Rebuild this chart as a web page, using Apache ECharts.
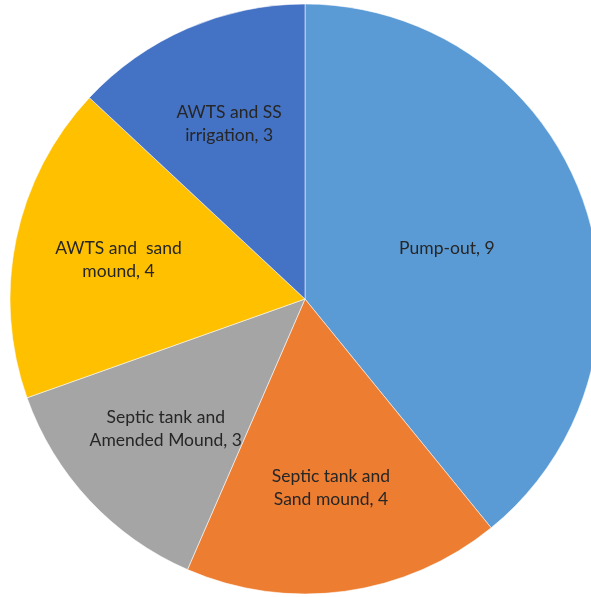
<!DOCTYPE html>
<html><head><meta charset="utf-8">
<script src="https://cdn.jsdelivr.net/npm/echarts@6/dist/echarts.min.js"></script>
<style>html,body{margin:0;padding:0;background:#fff}#c{width:591px;height:597px}</style>
</head><body><div id="c"></div>
<script>
const categories = ["Pump-out", "Septic tank and\nSand mound", "Septic tank and\nAmended Mound", "AWTS and  sand\nmound", "AWTS and SS\nirrigation"];
const values = [9, 4, 3, 4, 3];
const colors = ["#5B9BD5", "#ED7D31", "#A5A5A5", "#FFC000", "#4472C4"];

const font = {fontFamily: "Lato, 'Open Sans', sans-serif", fontSize: 17.5, color: "#262626", lineHeight: 23};
const chart = echarts.init(document.getElementById('c'));
chart.setOption({
  animation: false,
  series: [{
    type: 'pie', center: [305, 299], radius: [0, 295], startAngle: 90, clockwise: true,
    silent: true,
    itemStyle: {borderColor: 'rgba(255,255,255,0.55)', borderWidth: 1},
    label: {show: false},
    labelLine: {show: false},
    data: categories.map((n, i) => ({
      name: n, value: values[i], itemStyle: {color: colors[i]},
      label: i === 0 ? Object.assign({show: true, position: 'inside', formatter: '{b}, {c}'}, font) : {show: false}
    }))
  }, {
    type: 'pie', center: [305, 299], radius: [80, 295], startAngle: 90, clockwise: true,
    silent: true,
    itemStyle: {color: 'rgba(0,0,0,0)', borderWidth: 0},
    labelLine: {show: false},
    label: Object.assign({show: true, position: 'inside', formatter: '{b}, {c}'}, font),
    data: categories.map((n, i) => ({
      name: n, value: values[i],
      label: i === 0 ? {show: false} : {}
    }))
  }]
});
</script></body></html>
